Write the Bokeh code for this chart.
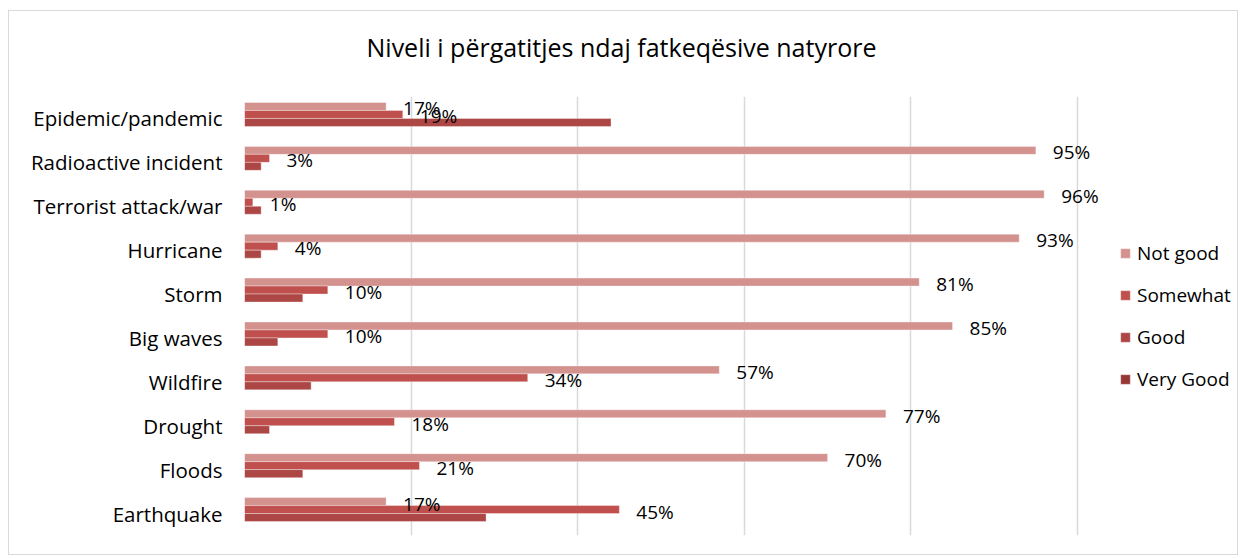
from bokeh.plotting import figure
from bokeh.models import ColumnDataSource, FixedTicker, Legend, LegendItem, Range1d, FactorRange, Title
from bokeh.transform import dodge
from bokeh.core.properties import value
from bokeh.embed import file_html
from bokeh.resources import INLINE

categories = ["Epidemic/pandemic", "Radioactive incident", "Terrorist attack/war", "Hurricane",
              "Storm", "Big waves", "Wildfire", "Drought", "Floods", "Earthquake"]
not_good = [17, 95, 96, 93, 81, 85, 57, 77, 70, 17]
somewhat = [19, 3, 1, 4, 10, 10, 34, 18, 21, 45]
good = [44, 2, 2, 2, 7, 4, 8, 3, 7, 29]
very_good = [0, 0, 0, 0, 0, 0, 0, 0, 0, 0]
series_names = ["Not good", "Somewhat", "Good", "Very Good"]
colors = ["#D4928F", "#C0504D", "#AC4745", "#953735"]
x_ticks = [0, 20, 40, 60, 80, 100]
title_text = "Niveli i përgatitjes ndaj fatkeqësive natyrore"

FONT = "Open Sans"
W, H = 1230, 545
FL, FT, FB, FR = 235, 85, 524, 1229   # frame edges in canvas px
PX_PER_PCT = 8.33
x_max = (FR - FL) / PX_PER_PCT

src = ColumnDataSource(dict(
    cat=categories,
    ng=not_good, sw=somewhat, gd=good, vg=very_good,
    ng_lbl=[f"{v}%" for v in not_good],
    sw_lbl=[f"{v}%" for v in somewhat],
))

p = figure(width=W, height=H, output_backend="svg", toolbar_location=None,
           y_range=FactorRange(factors=list(reversed(categories)), range_padding=0),
           x_range=Range1d(0, x_max),
           min_border_left=FL, min_border_right=W - FR, min_border_top=FT, min_border_bottom=H - FB)

p.outline_line_color = None
p.border_fill_color = "white"
p.background_fill_color = "white"

band = 44.0
bw = 8.0 / band
offsets = [12 / band, 4 / band, -4 / band, -12 / band]
fields = ["ng", "sw", "gd", "vg"]
renderers = []
for f, off, c in zip(fields, offsets, colors):
    r = p.hbar(y=dodge("cat", off, range=p.y_range), left=0, right=f, height=bw,
               source=src, fill_color=c, line_color="white", line_alpha=0.35, line_width=1)
    renderers.append(r)

for f, xf, off in [("ng_lbl", "ng", offsets[0]), ("sw_lbl", "sw", offsets[1])]:
    p.text(x=xf, y=dodge("cat", off, range=p.y_range), text=f, source=src,
           x_offset=17, y_offset=2, text_baseline="middle", text_align="left",
           text_font=value(FONT), text_font_size="19px", text_color="#000000")

# axes
p.xaxis.visible = False
p.xgrid.ticker = FixedTicker(ticks=x_ticks)
p.xgrid.grid_line_color = "#D9D9D9"
p.xgrid.grid_line_width = 1.5
p.ygrid.grid_line_color = None

p.yaxis.axis_line_color = None
p.yaxis.major_tick_line_color = None
p.yaxis.minor_tick_line_color = None
p.yaxis.major_tick_out = 0
p.yaxis.major_label_standoff = 22
p.yaxis.major_label_text_font = FONT
p.yaxis.major_label_text_font_size = "20.5px"
p.yaxis.major_label_text_color = "#000000"

# main title (outer)
p.title.text = title_text
p.title.align = "left"
p.title.offset = 122
p.title.text_font = FONT
p.title.text_font_size = "25px"
p.title.text_font_style = "normal"
p.title.text_color = "#000000"
p.title.standoff = 0

# spacer between title and plot area (closest to the frame)
spacer = Title(text=" ", text_font_size="1px", standoff=30)
p.add_layout(spacer, "above")

# legend
items = [LegendItem(label=n, renderers=[r]) for n, r in zip(series_names, renderers)]
legend = Legend(items=items, location=(875, 143), orientation="vertical",
                glyph_width=12, glyph_height=12, label_height=20, spacing=16,
                label_text_font=FONT, label_text_font_size="19px", label_text_color="#000000",
                label_standoff=6, padding=0, margin=0, border_line_color=None,
                background_fill_alpha=0)
p.add_layout(legend, "center")

p.styles = {"border": "1px solid #D9D9D9", "margin-left": "8px", "margin-top": "10px"}

open("out.html", "w").write(file_html(p, INLINE))
